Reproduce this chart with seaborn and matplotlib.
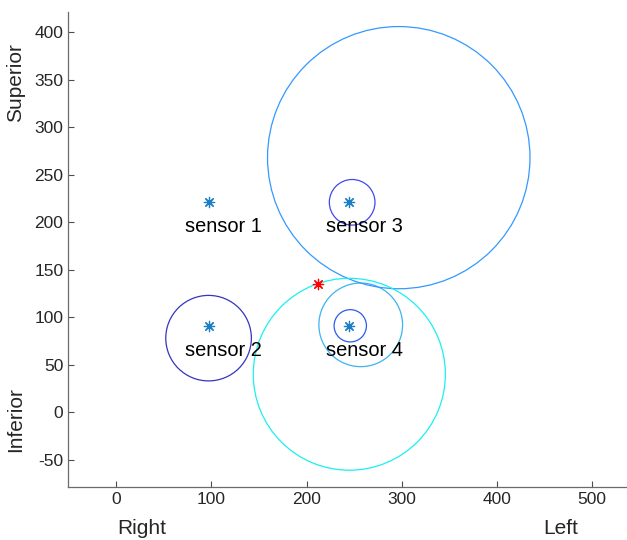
import numpy as np
import pandas as pd
import matplotlib
matplotlib.use("Agg")
import matplotlib.pyplot as plt
from matplotlib.patches import Circle
import seaborn as sns

# sensor positions
sensor_x = [97, 97, 245, 245]
sensor_y = [221, 91, 221, 91]
sensor_labels = ["sensor 1", "sensor 2", "sensor 3", "sensor 4"]

# estimated source
source_x = [212]
source_y = [135]

# range circles
circle_x = [97, 248, 246, 257, 297, 245]
circle_y = [78, 221, 91, 92, 268, 40]
circle_r = [45, 24, 17, 44, 138, 101]
circle_colors = ["#3535C0", "#4646F0", "#2E5AEE", "#3CB4F0", "#3399FF", "#1AF0F0"]

xticks = [0, 100, 200, 300, 400, 500]
yticks = [-50, 0, 50, 100, 150, 200, 250, 300, 350, 400]

sns.set_style("ticks")
plt.rcParams["font.family"] = ["Liberation Sans", "DejaVu Sans"]
plt.rcParams["axes.unicode_minus"] = False

fig = plt.figure(figsize=(6.27, 5.4), dpi=100)
ax = fig.add_axes([68.3 / 627, 52.7 / 540, 1 - 68.3 / 627, 475 / 540])

for cx, cy, r, c in zip(circle_x, circle_y, circle_r, circle_colors):
    ax.add_patch(Circle((cx, cy), r, fill=False, edgecolor=c, linewidth=0.9))

sensors = pd.DataFrame({"x": sensor_x, "y": sensor_y})
sns.scatterplot(data=sensors, x="x", y="y", marker=(8, 2, 0), s=55,
                color="#1a7fc4", linewidth=0.9, ax=ax, zorder=3)
src = pd.DataFrame({"x": source_x, "y": source_y})
sns.scatterplot(data=src, x="x", y="y", marker=(8, 2, 0), s=55,
                color="#FF0000", linewidth=0.9, ax=ax, zorder=3)

# labels sit below-left of each marker
for sx, sy, lab in zip(sensor_x, sensor_y, sensor_labels):
    ax.text(sx - 25, sy - 26, lab, ha="left", va="center", fontsize=14.4,
            color="black")

ax.set_xlim(-50.5, 537)
ax.set_ylim(-79, 421)
ax.set_xticks(xticks)
ax.set_yticks(yticks)
ax.set_xlabel("")
ax.set_ylabel("")
ax.tick_params(direction="in", length=4, width=0.8, labelsize=12.5,
               colors="#4d4d4d", labelcolor="#262626")
for side in ["left", "bottom"]:
    ax.spines[side].set_color("#6b6b6b")
    ax.spines[side].set_linewidth(0.9)
ax.spines["top"].set_visible(False)
ax.spines["right"].set_visible(False)

fig.text(15.7 / 627, 1 - 82.5 / 540, "Superior", rotation=90, ha="center",
         va="center", fontsize=15, color="#262626")
fig.text(15.7 / 627, 1 - 420 / 540, "Inferior", rotation=90, ha="center",
         va="center", fontsize=15, color="#262626")
fig.text(142 / 627, 6 / 540, "Right", ha="center", va="baseline",
         fontsize=15, color="#262626")
fig.text(560.5 / 627, 6 / 540, "Left", ha="center", va="baseline",
         fontsize=15, color="#262626")

fig.savefig("out.png", dpi=100)
